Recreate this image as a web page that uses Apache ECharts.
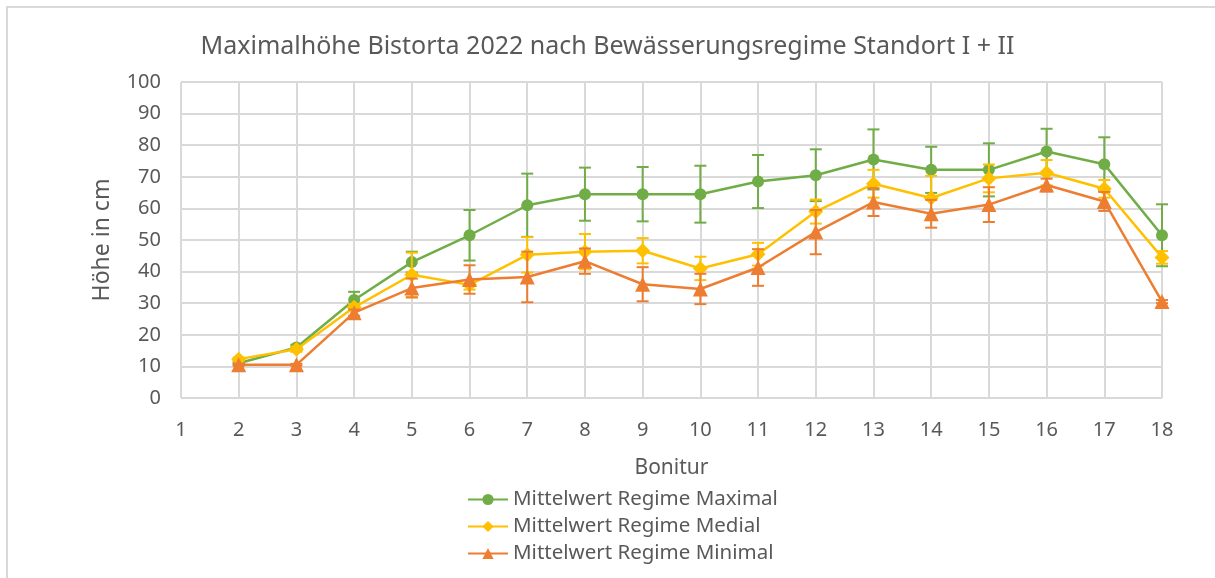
<!DOCTYPE html>
<html>
<head>
<meta charset="utf-8">
<script src="https://cdn.jsdelivr.net/npm/echarts@6/dist/echarts.min.js"></script>
<style>
    html, body { margin: 0; padding: 0; background: #fff; }
    #hoehe_chart { width: 1215px; height: 578px; }
</style>
</head>
<body>
<div id="hoehe_chart"></div>
<script>
// Bonitur-Termine (x) und Mittelwerte mit Fehlerbalken (y, cm)
var bonitur = [2, 3, 4, 5, 6, 7, 8, 9, 10, 11, 12, 13, 14, 15, 16, 17, 18];
var xTicks = [1, 18];
var yTicks = [0, 100, 10];

var maxMean = [11, 16, 31, 43, 51.5, 61, 64.5, 64.5, 64.5, 68.5, 70.5, 75.5, 72.2, 72.2, 78, 74, 51.5];
var maxErr  = [0.5, 0.8, 2.6, 3.3, 8, 10, 8.4, 8.6, 9, 8.4, 8.2, 9.5, 7.3, 8.4, 7.2, 8.5, 9.8];
var medMean = [12.3, 15.4, 28.7, 39, 35.8, 45.3, 46.3, 46.6, 41, 45.5, 59, 67.8, 63.3, 69.5, 71.3, 66.2, 44.5];
var medErr  = [0.5, 0.8, 1, 7, 1.5, 5.6, 5.6, 4, 3.7, 3.6, 3.8, 4.4, 7, 4.4, 4, 2.8, 2];
var minMean = [10.5, 10.5, 27, 34.8, 37.5, 38.3, 43.3, 36, 34.5, 41.3, 52.5, 62, 58.3, 61.2, 67.4, 62.2, 30.5];
var minErr  = [0.3, 0.3, 1, 3, 4.5, 8, 4, 5.4, 4.8, 5.8, 7, 4.4, 4.4, 5.5, 2, 3, 0.5];

var names = ['Mittelwert Regime Maximal', 'Mittelwert Regime Medial', 'Mittelwert Regime Minimal'];
var colors = ['#70ad47', '#ffc000', '#ed7d31'];
var symbols = ['circle', 'diamond', 'triangle'];
var symbolSizes = [12, 15, 15];

var FONT = '"Noto Sans", "Open Sans", sans-serif';
var TEXT = '#595959';

function points(mean){
    return bonitur.map(function(b, i){ return [b, mean[i]]; });
}

function errData(mean, err){
    return bonitur.map(function(b, i){ return [b, mean[i] - err[i], mean[i] + err[i]]; });
}

function errorBars(color){
    return function(params, api){
        var lo = api.coord([api.value(0), api.value(1)]);
        var hi = api.coord([api.value(0), api.value(2)]);
        var w = 6;
        var style = { stroke: color, lineWidth: 2 };
        return {
            type: 'group',
            children: [
                { type: 'line', shape: { x1: lo[0], y1: lo[1], x2: hi[0], y2: hi[1] }, style: style },
                { type: 'line', shape: { x1: lo[0] - w, y1: lo[1], x2: lo[0] + w, y2: lo[1] }, style: style },
                { type: 'line', shape: { x1: hi[0] - w, y1: hi[1], x2: hi[0] + w, y2: hi[1] }, style: style }
            ]
        };
    };
}

var means = [maxMean, medMean, minMean];
var errs = [maxErr, medErr, minErr];

var series = [];
means.forEach(function(m, k){
    series.push({
        type: 'custom',
        renderItem: errorBars(colors[k]),
        data: errData(m, errs[k]),
        encode: { x: 0, y: [1, 2] },
        z: 1 + k * 2,
        silent: true
    });
    series.push({
        name: names[k],
        type: 'line',
        data: points(m),
        symbol: symbols[k],
        symbolSize: symbolSizes[k],
        itemStyle: { color: colors[k] },
        lineStyle: { color: colors[k], width: 2.5 },
        z: 2 + k * 2
    });
});

var hoeheChart = echarts.init(document.getElementById('hoehe_chart'));

var option = {
    animation: false,
    backgroundColor: '#fff',
    graphic: [{
        type: 'rect',
        shape: { x: 7, y: 7, width: 1400, height: 800 },
        style: { fill: 'none', stroke: '#d9d9d9', lineWidth: 2 },
        silent: true
    }],
    title: {
        text: 'Maximalhöhe Bistorta 2022 nach Bewässerungsregime Standort I + II',
        left: 'center',
        top: 29,
        textStyle: { fontFamily: FONT, fontSize: 25, fontWeight: 'normal', color: TEXT }
    },
    legend: {
        data: names,
        orient: 'vertical',
        left: 462,
        top: 484,
        itemWidth: 40,
        itemHeight: 14,
        itemGap: 6,
        textStyle: { fontFamily: FONT, fontSize: 20.5, color: TEXT }
    },
    grid: { left: 181, right: 53, top: 82, bottom: 180 },
    xAxis: {
        type: 'value',
        min: xTicks[0],
        max: xTicks[1],
        interval: 1,
        name: 'Bonitur',
        nameLocation: 'middle',
        nameGap: 60,
        nameTextStyle: { fontFamily: FONT, fontSize: 21, color: TEXT },
        axisLine: { show: false },
        axisTick: { show: false },
        axisLabel: { margin: 22, fontFamily: FONT, fontSize: 20, color: TEXT },
        splitLine: { show: true, lineStyle: { color: '#d9d9d9', width: 2 } }
    },
    yAxis: {
        type: 'value',
        min: yTicks[0],
        max: yTicks[1],
        interval: yTicks[2],
        name: 'Höhe in cm',
        nameLocation: 'middle',
        nameGap: 67,
        nameTextStyle: { fontFamily: FONT, fontSize: 23, color: TEXT },
        axisLine: { show: false },
        axisTick: { show: false },
        axisLabel: { margin: 20, fontFamily: FONT, fontSize: 20, color: TEXT },
        splitLine: { show: true, lineStyle: { color: '#d9d9d9', width: 2 } }
    },
    series: series
};

hoeheChart.setOption(option);

window.addEventListener('resize', function(){
    if (hoeheChart != null && hoeheChart != undefined) {
        hoeheChart.resize();
    }
});
</script>
</body>
</html>
